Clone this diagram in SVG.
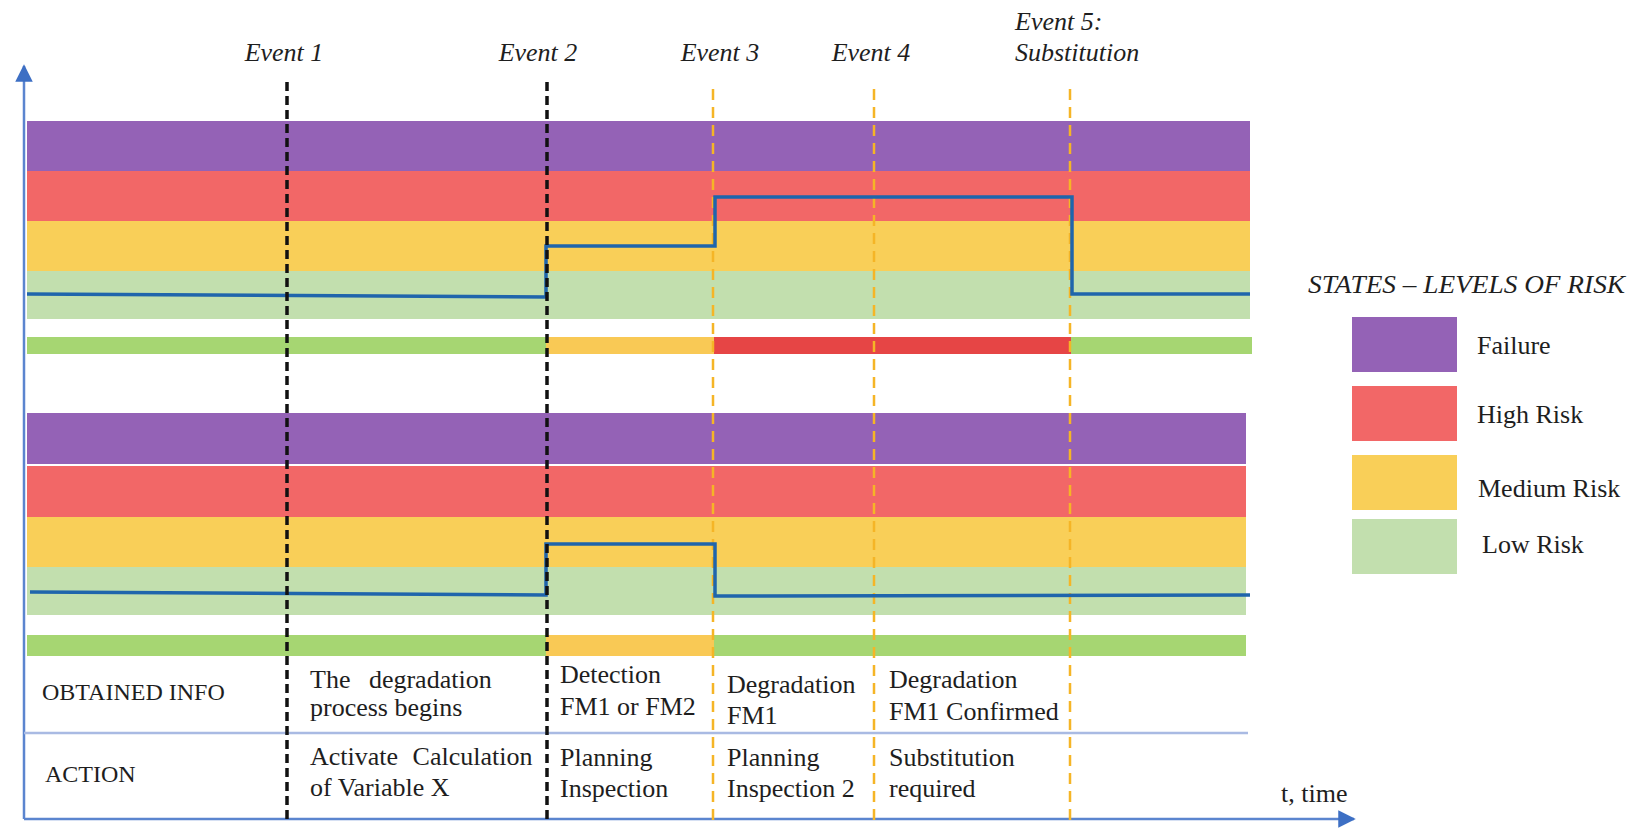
<svg xmlns="http://www.w3.org/2000/svg" width="1647" height="829" viewBox="0 0 1647 829">
  <style>
    .lbl { font-family: "Liberation Serif", "Times New Roman", serif; font-size: 26px; fill: #1e1e1e; }
    .ev { font-family: "Liberation Serif", "Times New Roman", serif; font-size: 26px; font-style: italic; fill: #1e1e1e; }
    .hdr { font-family: "Liberation Serif", "Times New Roman", serif; font-size: 24px; fill: #1e1e1e; }
    .fail { fill: #9462B6; }
    .high { fill: #F26767; }
    .med { fill: #F9CF58; }
    .low { fill: #C2DFAE; }
    .ok { fill: #A6D672; }
    .bad { fill: #E64545; }
    .warn { fill: #F9C955; }
    .risk { fill: none; stroke: #1F65AC; stroke-width: 3.5; stroke-linejoin: miter; }
    .evk { stroke: #111; stroke-width: 3.5; stroke-dasharray: 9 5; fill: none; }
    .evo { stroke: #F5B526; stroke-width: 2.5; stroke-dasharray: 11 7; fill: none; }
    .axis { stroke: #5B85CF; stroke-width: 2.5; fill: none; }
    .rule { stroke: #A9BAE3; stroke-width: 2.5; fill: none; }
  </style>
  <defs>
    <marker id="arrow" viewBox="0 0 10 10" refX="9" refY="5" markerWidth="7" markerHeight="7" markerUnits="strokeWidth" orient="auto">
      <path d="M0,0 L10,5 L0,10 z" fill="#3D6FC4"/>
    </marker>
  </defs>

  <rect width="1647" height="829" fill="#ffffff"/>

  <!-- upper component: risk bands and status bar -->
  <g id="component-a">
    <rect class="fail" x="27" y="121" width="1223" height="50"/>
    <rect class="high" x="27" y="171" width="1223" height="50"/>
    <rect class="med" x="27" y="221" width="1223" height="50"/>
    <rect class="low" x="27" y="271" width="1223" height="48"/>
    <rect class="ok" x="27" y="337" width="519" height="17"/>
    <rect class="warn" x="546" y="337" width="168" height="17"/>
    <rect class="bad" x="714" y="337" width="357" height="17"/>
    <rect class="ok" x="1071" y="337" width="181" height="17"/>
  </g>

  <!-- lower component -->
  <g id="component-b">
    <rect class="fail" x="27" y="413" width="1219" height="51"/>
    <rect class="high" x="27" y="466" width="1219" height="51"/>
    <rect class="med" x="27" y="517" width="1219" height="50"/>
    <rect class="low" x="27" y="567" width="1219" height="48"/>
    <rect class="ok" x="27" y="635" width="519" height="21"/>
    <rect class="warn" x="546" y="635" width="168" height="21"/>
    <rect class="ok" x="714" y="635" width="532" height="21"/>
  </g>

  <!-- axes, table rule and event markers -->
  <g id="connectors">
    <line class="axis" x1="24" y1="819" x2="24" y2="66" marker-end="url(#arrow)"/>
    <line class="axis" x1="24" y1="819" x2="1354" y2="819" marker-end="url(#arrow)"/>
    <line class="rule" x1="24" y1="733" x2="1248" y2="733"/>
    <line class="evo" x1="713" y1="89" x2="713" y2="821"/>
    <line class="evo" x1="874" y1="89" x2="874" y2="821"/>
    <line class="evo" x1="1070" y1="89" x2="1070" y2="821"/>
  </g>

  <!-- risk level over time for each component -->
  <g id="risk-paths">
    <path class="risk" d="M27,294 L546,297 L546,246 L715,246 L715,197 L1072,197 L1072,294 L1250,294"/>
    <path class="risk" d="M30,592 L546,595 L546,544 L715,544 L715,596 L1250,595"/>
  </g>

  <g id="event-markers">
    <line class="evk" x1="287" y1="82" x2="287" y2="819"/>
    <line class="evk" x1="547" y1="82" x2="547" y2="819"/>
  </g>

  <!-- event labels -->
  <g id="events">
    <text class="ev" x="284" y="61" text-anchor="middle">Event 1</text>
    <text class="ev" x="538" y="61" text-anchor="middle">Event 2</text>
    <text class="ev" x="720" y="61" text-anchor="middle">Event 3</text>
    <text class="ev" x="871" y="61" text-anchor="middle">Event 4</text>
    <text class="ev" x="1015" y="30">Event 5:</text>
    <text class="ev" x="1015" y="61">Substitution</text>
  </g>

  <!-- legend -->
  <g id="legend">
    <text class="ev" x="1308" y="293" textLength="317" lengthAdjust="spacingAndGlyphs">STATES – LEVELS OF RISK</text>
    <rect class="fail" x="1352" y="317" width="105" height="55"/>
    <rect class="high" x="1352" y="386" width="105" height="55"/>
    <rect class="med" x="1352" y="455" width="105" height="55"/>
    <rect class="low" x="1352" y="519" width="105" height="55"/>
    <text class="lbl" x="1477" y="354">Failure</text>
    <text class="lbl" x="1477" y="423">High Risk</text>
    <text class="lbl" x="1478" y="497">Medium Risk</text>
    <text class="lbl" x="1482" y="553">Low Risk</text>
  </g>

  <!-- information / action table -->
  <g id="table">
    <text class="hdr" x="42" y="700">OBTAINED INFO</text>
    <text class="hdr" x="45" y="782">ACTION</text>

    <text class="lbl" x="310" y="688" word-spacing="12">The degradation</text>
    <text class="lbl" x="310" y="716">process begins</text>
    <text class="lbl" x="310" y="765" word-spacing="8">Activate Calculation</text>
    <text class="lbl" x="310" y="796">of Variable X</text>

    <text class="lbl" x="560" y="683">Detection</text>
    <text class="lbl" x="560" y="715">FM1 or FM2</text>
    <text class="lbl" x="560" y="766">Planning</text>
    <text class="lbl" x="560" y="797">Inspection</text>

    <text class="lbl" x="727" y="693">Degradation</text>
    <text class="lbl" x="727" y="724">FM1</text>
    <text class="lbl" x="727" y="766">Planning</text>
    <text class="lbl" x="727" y="797">Inspection 2</text>

    <text class="lbl" x="889" y="688">Degradation</text>
    <text class="lbl" x="889" y="720">FM1 Confirmed</text>
    <text class="lbl" x="889" y="766">Substitution</text>
    <text class="lbl" x="889" y="797">required</text>

    <text class="lbl" x="1281" y="802">t, time</text>
  </g>
</svg>
